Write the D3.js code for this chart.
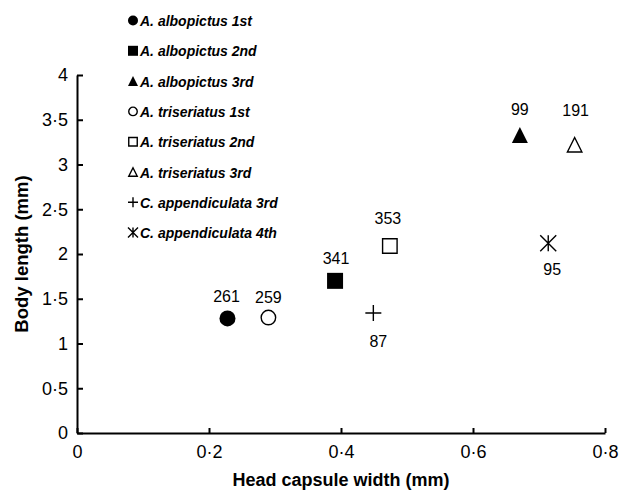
<!DOCTYPE html>
<html>
<head>
<meta charset="utf-8">
<script src="https://cdnjs.cloudflare.com/ajax/libs/d3/7.8.5/d3.min.js"></script>
<style>
  body { margin: 0; background: #fff; }
  svg { display: block; font-family: "Liberation Sans", Arial, sans-serif; }
</style>
</head>
<body>
<div id="chart"></div>
<script>
// series: one point per larval stage
var stages = [
    "A. albopictus 1st", "A. albopictus 2nd", "A. albopictus 3rd",
    "A. triseriatus 1st", "A. triseriatus 2nd", "A. triseriatus 3rd",
    "C. appendiculata 3rd", "C. appendiculata 4th"
];
var headWidth = [0.228, 0.391, 0.671, 0.290, 0.474, 0.754, 0.449, 0.714];
var bodyLength = [1.28, 1.70, 3.33, 1.29, 2.09, 3.22, 1.34, 2.12];
var sampleSize = [261, 341, 99, 259, 353, 191, 87, 95];

// marker style for each stage
var markers = ["circle", "square", "triangle", "circle", "square", "triangle", "plus", "asterisk"];
var filled = [true, true, true, false, false, false, false, false];

// where the n label sits relative to its point (px)
var labelOffsets = [[-1, -16], [1, -17], [0, -20], [0, -15], [-2, -22], [1, -29], [5, 34], [4, 32]];

// axis ticks
var xTicks = [0, 0.2, 0.4, 0.6, 0.8];
var yTicks = [0, 0.5, 1, 1.5, 2, 2.5, 3, 3.5, 4];

var width = 628;
var height = 490;

var svg = d3
    .select("#chart")
    .append("svg")
    .attr("width", width)
    .attr("height", height);

var xScale = d3.scaleLinear().domain([0, 0.8]).range([77, 605]);
var yScale = d3.scaleLinear().domain([0, 4]).range([433, 75]);

// decimal point is a middle dot in this journal style
function fmt(d) {
    return String(d).replace(".", "\u00b7");
}

// draw a marker path centred on 0,0
function markerPath(type, s) {
    var h = s / 2;
    if (type === "circle") {
        return "M" + (-h) + ",0A" + h + "," + h + " 0 1,0 " + h + ",0A" + h + "," + h + " 0 1,0 " + (-h) + ",0Z";
    }
    if (type === "square") {
        return "M" + (-h) + "," + (-h) + "H" + h + "V" + h + "H" + (-h) + "Z";
    }
    if (type === "triangle") {
        return "M0," + (-h) + "L" + h + "," + h + "H" + (-h) + "Z";
    }
    if (type === "plus") {
        return "M" + (-h) + ",0H" + h + "M0," + (-h) + "V" + h;
    }
    // asterisk: an x with a vertical stroke
    return "M" + (-h) + "," + (-h) + "L" + h + "," + h +
        "M" + h + "," + (-h) + "L" + (-h) + "," + h +
        "M0," + (-h) + "V" + h;
}

function addMarker(g, i, s) {
    var line = markers[i] === "plus" || markers[i] === "asterisk";
    var open = !filled[i] && !line;
    g.append("path")
        .attr("d", markerPath(markers[i], open ? s - 1.5 : s))
        .attr("fill", line ? "none" : (filled[i] ? "#000" : "#fff"))
        .attr("stroke", "#000")
        .attr("stroke-width", filled[i] ? 0 : 1.4);
}

// axes, ticks point inward
var xAxis = d3.axisBottom(xScale)
    .tickValues(xTicks)
    .tickSizeInner(-5)
    .tickSizeOuter(0)
    .tickPadding(12)
    .tickFormat(fmt);

var yAxis = d3.axisLeft(yScale)
    .tickValues(yTicks)
    .tickSizeInner(-6)
    .tickSizeOuter(0)
    .tickPadding(9)
    .tickFormat(fmt);

var gx = svg.append("g")
    .attr("transform", "translate(0," + yScale(0) + ")")
    .call(xAxis);

var gy = svg.append("g")
    .attr("transform", "translate(" + xScale(0) + ",0)")
    .call(yAxis);

[gx, gy].forEach(function(g) {
    g.select(".domain").attr("stroke", "#000").attr("stroke-width", 2);
    g.selectAll(".tick line").attr("stroke", "#000").attr("stroke-width", 2);
    g.selectAll(".tick text")
        .attr("fill", "#000")
        .attr("font-size", 18)
        .attr("font-family", "Liberation Sans, Arial, sans-serif");
});

// axis titles
svg.append("text")
    .attr("x", (xScale(0) + xScale(0.8)) / 2)
    .attr("y", 486)
    .attr("text-anchor", "middle")
    .attr("font-size", 18)
    .attr("font-weight", "bold")
    .text("Head capsule width (mm)");

svg.append("text")
    .attr("transform", "translate(28," + (yScale(0) + yScale(4)) / 2 + ")rotate(-90)")
    .attr("text-anchor", "middle")
    .attr("font-size", 18.5)
    .attr("font-weight", "bold")
    .text("Body length (mm)");

// the points
stages.forEach(function(name, i) {
    var px = xScale(headWidth[i]);
    var py = yScale(bodyLength[i]);
    var g = svg.append("g").attr("transform", "translate(" + px + "," + py + ")");
    addMarker(g, i, 16);

    svg.append("text")
        .attr("x", px + labelOffsets[i][0])
        .attr("y", py + labelOffsets[i][1])
        .attr("text-anchor", "middle")
        .attr("font-size", 16)
        .text(sampleSize[i]);
});

// legend in the upper left
var legend = svg.append("g").attr("transform", "translate(133,20.5)");

stages.forEach(function(name, i) {
    var row = legend.append("g").attr("transform", "translate(0," + (i * 30.3) + ")");
    addMarker(row, i, 10);
    row.append("text")
        .attr("x", 7)
        .attr("y", 5.5)
        .attr("font-size", 14)
        .attr("font-style", "italic")
        .attr("font-weight", "bold")
        .text(name);
});
</script>
</body>
</html>
